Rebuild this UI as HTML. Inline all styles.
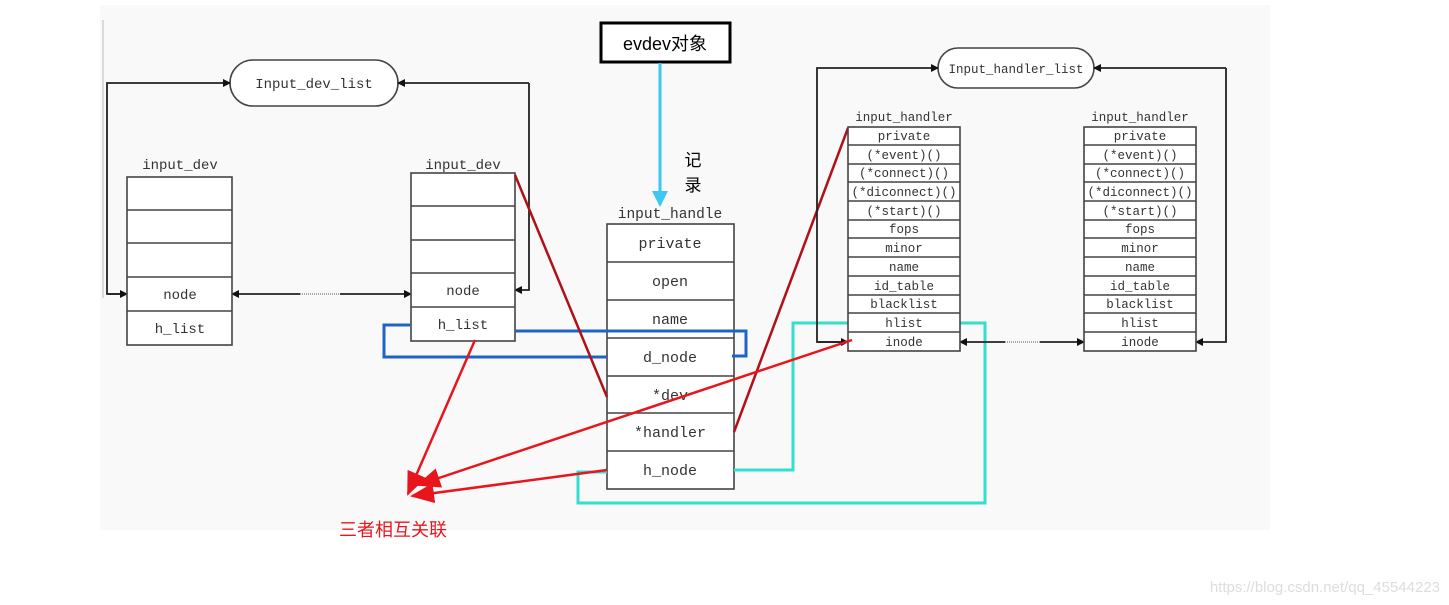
<!DOCTYPE html>
<html><head><meta charset="utf-8"><style>
html,body{margin:0;padding:0;background:#fff;}
svg{display:block;}
.t{font-family:"Liberation Mono","Noto Sans CJK SC",monospace;font-size:14px;fill:#333;text-anchor:middle;}
.s{font-family:"Liberation Mono",monospace;font-size:12.5px;fill:#333;text-anchor:middle;}
.b{fill:#fff;stroke:#444;stroke-width:1.6;}
.k{stroke:#222;stroke-width:1.8;fill:none;}
</style></head><body>
<svg width="1449" height="605" viewBox="0 0 1449 605" xmlns="http://www.w3.org/2000/svg">
<defs>
<marker id="ah" markerWidth="8" markerHeight="8" refX="7" refY="4" orient="auto" markerUnits="userSpaceOnUse"><path d="M0,0 L8,4 L0,8 z" fill="#111"/></marker>
<marker id="ac" markerWidth="16" markerHeight="16" refX="14" refY="8" orient="auto" markerUnits="userSpaceOnUse"><path d="M0,0 L16,8 L0,16 z" fill="#3cc8f0"/></marker>
<marker id="ar" markerWidth="24" markerHeight="20" refX="22" refY="10" orient="auto" markerUnits="userSpaceOnUse"><path d="M0,0 L24,10 L0,20 z" fill="#e8161c"/></marker>
</defs>
<rect x="100" y="5" width="1170" height="525" fill="#f9f9f9"/>
<line x1="103" y1="20" x2="103" y2="298" stroke="#bbb"/>

<rect x="230" y="60" width="168" height="46" rx="23" class="b"/>
<text x="314" y="88" class="t">Input_dev_list</text>
<path d="M127,294 L107,294 L107,83 L230,83" class="k" marker-end="url(#ah)"/>
<line x1="108" y1="294" x2="127" y2="294" class="k" marker-end="url(#ah)"/>
<path d="M529,83 L398,83" class="k" marker-end="url(#ah)"/>
<path d="M529,83 L529,290 L515,290" class="k" marker-end="url(#ah)"/>
<line x1="300" y1="294" x2="232" y2="294" class="k" marker-end="url(#ah)"/>
<line x1="340" y1="294" x2="411" y2="294" class="k" marker-end="url(#ah)"/>
<line x1="300" y1="294" x2="340" y2="294" stroke="#555" stroke-dasharray="1,1"/>

<text x="180" y="169" class="t">input_dev</text>
<rect x="127" y="177" width="105" height="168" class="b"/>
<path d="M127,210H232M127,243H232M127,277H232M127,311H232" stroke="#444" stroke-width="1.6"/>
<text x="180" y="299" class="t">node</text>
<text x="180" y="333" class="t">h_list</text>

<text x="463" y="169" class="t">input_dev</text>
<rect x="411" y="173" width="104" height="168" class="b"/>
<path d="M411,206H515M411,240H515M411,273H515M411,307H515" stroke="#444" stroke-width="1.6"/>
<text x="463" y="295" class="t">node</text>
<text x="463" y="329" class="t">h_list</text>

<rect x="601" y="23" width="129" height="39" fill="#fff" stroke="#000" stroke-width="3"/>
<text x="665" y="50" style="font-family:'Liberation Sans','Noto Sans CJK SC',sans-serif;font-size:18px;text-anchor:middle;fill:#000">evdev对象</text>
<line x1="660" y1="63" x2="660" y2="205" stroke="#3cc8f0" stroke-width="3" marker-end="url(#ac)"/>
<text x="693" y="166" style="font-family:'Liberation Sans','Noto Sans CJK SC',sans-serif;font-size:17px;text-anchor:middle;fill:#000">记</text>
<text x="693" y="191" style="font-family:'Liberation Sans','Noto Sans CJK SC',sans-serif;font-size:17px;text-anchor:middle;fill:#000">录</text>

<text x="670" y="218" class="t" style="font-size:14.5px">input_handle</text>
<rect x="607" y="224" width="127" height="265" class="b"/>
<path d="M607,262H734M607,300H734M607,338H734M607,376H734M607,413H734M607,451H734" stroke="#444" stroke-width="1.6"/>
<text x="670" y="248" class="t" style="font-size:15px">private</text>
<text x="670" y="286" class="t" style="font-size:15px">open</text>
<text x="670" y="324" class="t" style="font-size:15px">name</text>
<text x="670" y="362" class="t" style="font-size:15px">d_node</text>
<text x="670" y="400" class="t" style="font-size:15px">*dev</text>
<text x="670" y="437" class="t" style="font-size:15px">*handler</text>
<text x="670" y="475" class="t" style="font-size:15px">h_node</text>

<path d="M515,331 L746,331 L746,356 L732,356" stroke="#1e64c8" stroke-width="3" fill="none"/>
<path d="M411,325 L384,325 L384,357 L607,357" stroke="#1e64c8" stroke-width="3" fill="none"/>

<line x1="515" y1="175" x2="607" y2="397" stroke="#b01018" stroke-width="2.5"/>
<line x1="734" y1="432" x2="848" y2="128" stroke="#b01018" stroke-width="2.5"/>

<path d="M734,470 L793,470 L793,323 L848,323" stroke="#33e0d0" stroke-width="3" fill="none"/>
<path d="M960,323 L985,323 L985,503 L578,503 L578,472 L607,472" stroke="#33e0d0" stroke-width="3" fill="none"/>

<rect x="938" y="48" width="156" height="40" rx="20" class="b"/>
<text x="1016" y="73" class="s">Input_handler_list</text>
<path d="M848,342 L817,342 L817,68 L938,68" class="k" marker-end="url(#ah)"/>
<line x1="818" y1="342" x2="848" y2="342" class="k" marker-end="url(#ah)"/>
<path d="M1226,68 L1094,68" class="k" marker-end="url(#ah)"/>
<path d="M1226,68 L1226,342 L1196,342" class="k" marker-end="url(#ah)"/>
<line x1="1005" y1="342" x2="960" y2="342" class="k" marker-end="url(#ah)"/>
<line x1="1040" y1="342" x2="1084" y2="342" class="k" marker-end="url(#ah)"/>
<line x1="1005" y1="342" x2="1040" y2="342" stroke="#555" stroke-dasharray="1,1"/>

<g id="h1">
<text x="904" y="121" class="s">input_handler</text>
<rect x="848" y="127" width="112" height="224" class="b"/>
<path d="M848,145H960M848,164H960M848,182H960M848,201H960M848,220H960M848,238H960M848,257H960M848,276H960M848,295H960M848,313H960M848,332H960" stroke="#444" stroke-width="1.5"/>
<text x="904" y="140" class="s">private</text>
<text x="904" y="159" class="s">(*event)()</text>
<text x="904" y="177" class="s">(*connect)()</text>
<text x="904" y="196" class="s">(*diconnect)()</text>
<text x="904" y="215" class="s">(*start)()</text>
<text x="904" y="233" class="s">fops</text>
<text x="904" y="252" class="s">minor</text>
<text x="904" y="271" class="s">name</text>
<text x="904" y="290" class="s">id_table</text>
<text x="904" y="308" class="s">blacklist</text>
<text x="904" y="327" class="s">hlist</text>
<text x="904" y="346" class="s">inode</text>
</g>
<use href="#h1" x="236" y="0"/>

<line x1="475" y1="340" x2="408" y2="494" stroke="#e8161c" stroke-width="2.5" marker-end="url(#ar)"/>
<line x1="852" y1="340" x2="418" y2="485" stroke="#e8161c" stroke-width="2.5" marker-end="url(#ar)"/>
<line x1="607" y1="470" x2="412" y2="496" stroke="#e8161c" stroke-width="2.5" marker-end="url(#ar)"/>
<text x="393" y="536" style="font-family:'Liberation Sans','Noto Sans CJK SC',sans-serif;font-size:18px;fill:#e8161c;text-anchor:middle">三者相互关联</text>

<text x="1440" y="592" style="font-family:'Liberation Sans',sans-serif;font-size:15px;fill:#ddd;text-anchor:end">https://blog.csdn.net/qq_45544223</text>
</svg>
</body></html>
